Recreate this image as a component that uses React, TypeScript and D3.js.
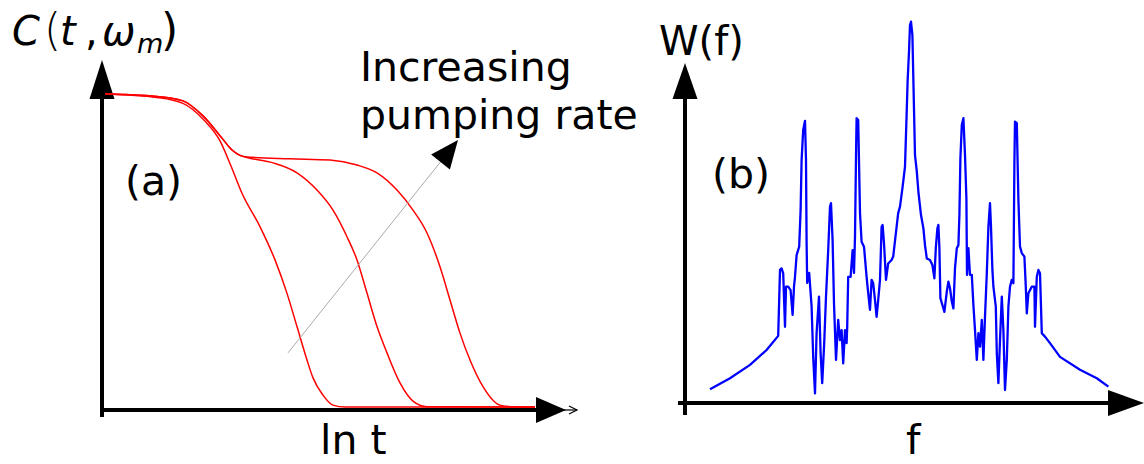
import React from 'react';
import * as d3 from 'd3';

type Pt = [number, number];

// Panel (a): C(t, ω_m) versus ln t (arbitrary units), three pumping rates
const pumpLow: Pt[] = [[0.3,100],[5.5,98.9],[8.1,97.0],[10.1,92.0],[11.8,85.0],[12.9,77.0],[14.0,68.3],[15.8,57.6],[17.3,47.0],[18.5,36.3],[19.5,25.7],[20.5,15.0],[21.1,9.3],[22.1,3.8],[23.1,0.6],[24.3,0],[43.3,0]];
const pumpMid: Pt[] = [[0.3,100],[2.8,99.8],[5.5,99.2],[8.1,97.8],[10.1,93.0],[12.0,85.9],[13.0,82.1],[13.8,80.4],[14.5,79.7],[17.1,78.0],[19.5,74.8],[21.5,69.3],[23.1,62.9],[24.5,54.4],[25.5,47.0],[26.5,36.4],[27.5,25.7],[28.5,17.3],[29.8,7.7],[31.1,1.9],[32.5,0.1],[43.3,0]];
const pumpHigh: Pt[] = [[0.3,100],[2.8,99.8],[5.5,99.2],[8.1,97.8],[10.1,93.0],[12.0,85.9],[13.0,82.1],[13.8,80.4],[14.5,79.9],[18.8,79.3],[22.8,78.9],[25.5,77.3],[27.5,74.8],[29.5,69.3],[31.1,62.9],[32.5,55.6],[33.8,44.8],[34.8,34.2],[35.8,23.6],[36.8,15.0],[38.1,6.5],[39.8,0.6],[41.1,0.1],[43.3,0]];
const pumpArrow: Pt[] = [[18.6,17.3],[35.6,85.3]];

// Panel (b): W(f) spectrum
const spectrum: Pt[] = [[-100.5,3.6],[-90.5,6.5],[-80.5,10.0],[-72.2,13.9],[-66.4,17.6],[-65.5,34.9],[-64.7,35.3],[-63.9,34.0],[-63,20.0],[-62.5,30.5],[-61.4,30.5],[-60.2,29.6],[-59.2,23.1],[-58.5,30.5],[-58,33.1],[-57.2,38.8],[-55.9,41.0],[-55.2,50.6],[-54.7,63.7],[-53.9,71.6],[-53,74.0],[-52.5,63.7],[-52.2,42.0],[-51.9,31.5],[-50.9,34.1],[-49.7,25.3],[-48.9,12.1],[-48,2.5],[-47.2,18.4],[-46,27.9],[-45.2,13.1],[-44.4,5.2],[-43.4,15.7],[-42.5,27.9],[-41.4,40.1],[-40.5,51.5],[-40,52.4],[-39.2,42.7],[-38.5,26.1],[-37.5,11.3],[-36.4,21.8],[-35.5,16.5],[-34.7,19.1],[-33.9,10.4],[-33,19.1],[-32.2,15.7],[-31.9,20.0],[-31.4,33.1],[-30.2,33.1],[-29.2,40.1],[-28.5,34.1],[-28,43.6],[-27.5,64.6],[-27.2,74.7],[-26.4,74.2],[-25.5,49.8],[-24.7,42.3],[-23.5,41.0],[-22.2,33.1],[-21.4,28.8],[-20.5,24.4],[-19.7,32.3],[-18.9,31.4],[-18,27.0],[-17.2,22.6],[-16.4,27.0],[-15.5,32.3],[-14.7,46.2],[-14.2,46.7],[-13.5,41.9],[-12.5,32.3],[-11.4,36.6],[-9.7,37.5],[-8.9,38.4],[-7.2,46.2],[-6.4,49.8],[-5.5,51.5],[-4.2,56.7],[-3,62.0],[-2.2,75.5],[-1.7,84.3],[-1,92.1],[-0.5,99.1],[0,100],[0.7,96.5],[1.2,84.3],[2,65.0],[2.9,60.7],[3.7,55.4],[5,49.3],[6.2,45.8],[7,41.4],[7.9,37.9],[9.5,37.5],[10.7,36.2],[11.7,32.7],[12.4,40.6],[13.2,45.8],[13.7,46.7],[14.2,40.6],[14.7,27.5],[15.7,25.7],[16.7,23.9],[17.9,29.2],[18.7,31.8],[19.5,30.1],[20.4,26.6],[21.2,24.8],[22,35.3],[22.9,40.6],[23.7,41.4],[24.2,49.3],[24.7,64.2],[25.4,72.9],[26.2,74.7],[27,65.0],[27.7,53.7],[28,33.6],[28.7,40.6],[29.5,33.6],[30.4,33.6],[31.2,25.7],[32,19.1],[32.9,11.3],[33.7,18.3],[34.5,14.8],[35.4,21.8],[36.2,11.3],[37,22.6],[37.9,34.0],[38.7,46.2],[39.5,52.4],[40,46.2],[40.7,34.9],[41.2,30.5],[42.4,25.3],[42.9,13.0],[43.7,5.2],[44.5,16.5],[45.4,27.9],[46.2,19.1],[47,3.4],[47.9,11.3],[48.7,25.3],[49.5,30.5],[50.4,32.3],[51.2,31.4],[51.7,62.9],[52,73.8],[52.9,73.4],[53.7,53.2],[54.5,41.0],[55.4,39.3],[56.7,38.4],[57.4,30.5],[57.9,23.5],[58.7,28.8],[59.5,29.6],[60.4,30.5],[61.7,30.5],[62,20.0],[62.9,33.1],[63.7,34.9],[64.5,34.0],[65.4,18.3],[67,17.4],[69.5,15.7],[74.5,12.1],[84.5,8.7],[92.9,6.5],[98.7,4.3]];

const FONT = "'DejaVu Sans', sans-serif";

function headPoly(tip: Pt, from: Pt, len: number, half: number): string {
  const dx = tip[0] - from[0];
  const dy = tip[1] - from[1];
  const L = Math.hypot(dx, dy);
  const ux = dx / L, uy = dy / L;
  const bx = tip[0] - ux * len, by = tip[1] - uy * len;
  const px = -uy * half, py = ux * half;
  return `${tip[0]},${tip[1]} ${bx + px},${by + py} ${bx - px},${by - py}`;
}

export default function App() {
  const xA = d3.scaleLinear().domain([0, 47.3]).range([102, 575]);
  const yA = d3.scaleLinear().domain([0, 100]).range([407, 94]);
  const xB = d3.scaleLinear().domain([-100, 100]).range([711, 1111]);
  const yB = d3.scaleLinear().domain([0, 100]).range([403, 21.7]);

  const lineA = d3.line<Pt>().x(d => xA(d[0])).y(d => yA(d[1])).curve(d3.curveMonotoneX);
  const lineB = d3.line<Pt>().x(d => xB(d[0])).y(d => yB(d[1]));

  // panel a axes
  const ax0 = xA(0);
  const ayBase = 410;
  const aYtop = 60;
  const aXend = 536;
  // panel b axes
  const bx0 = 685;
  const byBase = 403;

  const arrowFrom: Pt = [xA(pumpArrow[0][0]), yA(pumpArrow[0][1])];
  const arrowTip: Pt = [xA(pumpArrow[1][0]), yA(pumpArrow[1][1])];
  const dx = arrowTip[0] - arrowFrom[0], dy = arrowTip[1] - arrowFrom[1];
  const Lr = Math.hypot(dx, dy);
  const arrowLineEnd: Pt = [arrowTip[0] - (dx / Lr) * 24, arrowTip[1] - (dy / Lr) * 24];

  return (
    <svg width={1144} height={464} style={{ position: 'absolute', left: 0, top: 0, background: '#fff' }}
      fontFamily={FONT}>
      <rect x={0} y={0} width={1144} height={464} fill="#fff" />

      {/* ---------- Panel (a) ---------- */}
      <line x1={ax0} y1={96} x2={ax0} y2={417} stroke="#000" strokeWidth={4} />
      <polygon points={`${ax0},${aYtop} ${ax0 - 12.5},99 ${ax0 + 12.5},99`} fill="#000" />
      <line x1={ax0 - 2} y1={ayBase} x2={aXend + 2} y2={ayBase} stroke="#000" strokeWidth={4} />
      <polygon points={`${aXend},397 ${aXend},423 566,${ayBase}`} fill="#000" />
      <line x1={560} y1={ayBase} x2={577} y2={ayBase} stroke="#000" strokeWidth={1.2} />
      <polyline points={`569,406 577,${ayBase} 569,414`} fill="none" stroke="#000" strokeWidth={1.2} />

      {[pumpLow, pumpMid, pumpHigh].map((d, i) => (
        <path key={i} d={lineA(d) ?? ''} fill="none" stroke="#ff0000" strokeWidth={1.5} />
      ))}

      <line x1={arrowFrom[0]} y1={arrowFrom[1]} x2={arrowLineEnd[0]} y2={arrowLineEnd[1]} stroke="#a0a0a0" strokeWidth={0.9} />
      <polygon points={headPoly(arrowTip, arrowFrom, 28, 12)} fill="#000" />

      <text x={12} y={45} fontSize={40}>
        <tspan x={12} fontStyle="italic">C</tspan>
        <tspan x={44} fontSize={44} fontWeight={300}>(</tspan>
        <tspan x={60} y={45} fontStyle="italic">t</tspan>
        <tspan x={85} y={45}>,</tspan>
        <tspan x={102} y={45} fontStyle="italic">ω</tspan>
        <tspan x={137} y={53} fontSize={27} fontStyle="italic">m</tspan>
        <tspan x={161} y={45} fontSize={44}>)</tspan>
      </text>
      <text x={360} y={81} fontSize={41}>Increasing</text>
      <text x={360} y={129} fontSize={41}>pumping rate</text>
      <text x={125} y={195} fontSize={41}>(a)</text>
      <text x={320} y={454} fontSize={41}>ln t</text>

      {/* ---------- Panel (b) ---------- */}
      <line x1={bx0} y1={96} x2={bx0} y2={415} stroke="#000" strokeWidth={4} />
      <polygon points={`${bx0},63 ${bx0 - 12.5},99 ${bx0 + 12.5},99`} fill="#000" />
      <line x1={678} y1={byBase} x2={1110} y2={byBase} stroke="#000" strokeWidth={4} />
      <polygon points={`1108,390 1108,416 1144,${byBase}`} fill="#000" />

      <path d={lineB(spectrum) ?? ''} fill="none" stroke="#0000ff" strokeWidth={2.3} strokeLinejoin="round" />

      <text x={659} y={55} fontSize={40}>W(f)</text>
      <text x={712} y={188} fontSize={41}>(b)</text>
      <text x={906} y={454} fontSize={41}>f</text>
    </svg>
  );
}
